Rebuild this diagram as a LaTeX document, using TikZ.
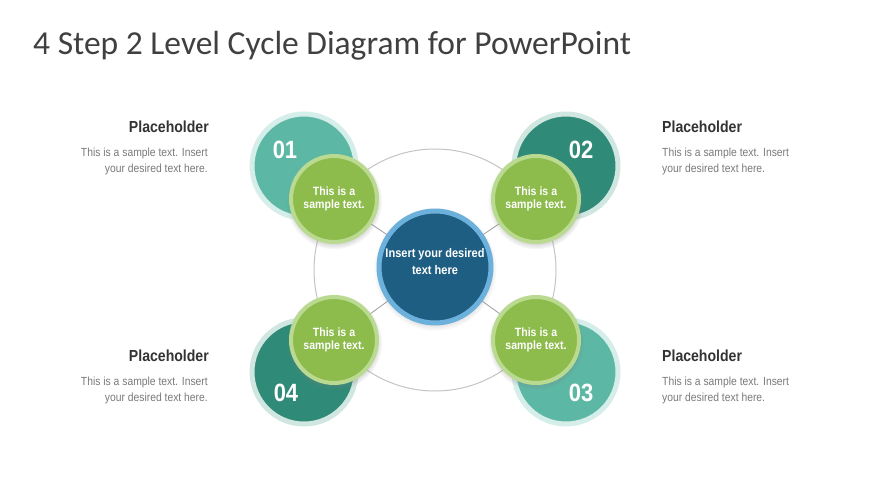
\documentclass[tikz,border=0pt]{standalone}
\usepackage{fontspec}
\setmainfont{Carlito}
\newfontfamily\cond[FakeStretch=0.88]{Liberation Sans}
\usetikzlibrary{shadows}
\definecolor{tealL}{HTML}{5CB8A5}
\definecolor{tealD}{HTML}{2F8A77}
\definecolor{haloL}{HTML}{D6EEEA}
\definecolor{haloD}{HTML}{D0E6E1}
\definecolor{grn}{HTML}{8DBB4C}
\definecolor{grnring}{HTML}{BADA92}
\definecolor{cblue}{HTML}{1F5E83}
\definecolor{cring}{HTML}{6CB0DC}
\definecolor{ringgray}{HTML}{C4C4C4}
\definecolor{titlegray}{HTML}{404040}
\definecolor{headgray}{HTML}{333333}
\definecolor{bodygray}{HTML}{7A7A7A}
\tikzset{
  bigL/.style={circle, fill=tealL, draw=haloL, line width=5pt, minimum size=104pt, inner sep=0pt},
  bigD/.style={circle, fill=tealD, draw=haloD, line width=5pt, minimum size=104pt, inner sep=0pt},
  num/.style={text=white, font=\cond\bfseries\fontsize{25}{25}\selectfont},
  grnbox/.style={circle, fill=grn, draw=grnring, line width=4pt, minimum size=86pt, inner sep=0pt,
     align=center, text=white, font=\cond\bfseries\fontsize{12}{13}\selectfont,
     circular drop shadow={shadow xshift=0pt, shadow yshift=-2pt, shadow scale=1.12, opacity=0.35}},
  cbox/.style={circle, fill=cblue, draw=cring, line width=5pt, minimum size=112pt, inner sep=0pt,
     circular drop shadow={shadow xshift=0pt, shadow yshift=-2pt, shadow scale=1.1, opacity=0.3}},
  ctext/.style={align=center, text=white, inner sep=0pt, font=\cond\bfseries\fontsize{12.5}{17}\selectfont},
  head/.style={text=headgray, font=\cond\bfseries\fontsize{16}{16}\selectfont, inner sep=0pt},
  body/.style={text=bodygray, font=\cond\fontsize{11.75}{16}\selectfont, inner sep=0pt},
  conn/.style={draw=ringgray!80!black, line width=0.8pt},
}
\begin{document}
\begin{tikzpicture}[x=1pt, y=-1pt]
\useasboundingbox (0,0) rectangle (870,489);
\fill[white] (0,0) rectangle (870,489);
% title
\node[anchor=base west, inner sep=0pt, text=titlegray, font=\fontsize{33.5}{33.5}\selectfont] (title) at (33,55) {4 Step 2 Level Cycle Diagram for PowerPoint};
% ring
\node[circle, draw=ringgray, line width=1pt, minimum size=242pt, inner sep=0pt] (ring) at (435,270) {};
% coordinates
\coordinate (pc) at (435,267);
\coordinate (p1) at (334,199);
\coordinate (p2) at (536,199);
\coordinate (p3) at (536,340);
\coordinate (p4) at (334,340);
% connectors
\draw[conn] (pc) -- (p1);
\draw[conn] (pc) -- (p2);
\draw[conn] (pc) -- (p3);
\draw[conn] (pc) -- (p4);
% big circles
\node[bigL] (b1) at (304,166) {};
\node[bigD] (b2) at (566,166) {};
\node[bigL] (b3) at (566,372) {};
\node[bigD] (b4) at (304,372) {};
\node[num] (n1) at (285,150) {01};
\node[num] (n2) at (581,150) {02};
\node[num] (n3) at (581,393) {03};
\node[num] (n4) at (286,393) {04};
% green circles
\node[grnbox] (g1) at (p1) {This is a\\sample text.};
\node[grnbox] (g2) at (p2) {This is a\\sample text.};
\node[grnbox] (g3) at (p3) {This is a\\sample text.};
\node[grnbox] (g4) at (p4) {This is a\\sample text.};
% center
\node[cbox] (c) at (pc) {};
\node[ctext] (ct) at (435,262) {Insert your desired\\text here};
% texts
\node[head, anchor=base east] (h1) at (209,133) {Placeholder};
\node[body, anchor=base east, align=right] (t1) at (208,173) {This is a sample text. Insert\\your desired text here.};
\node[head, anchor=base west] (h2) at (662,133) {Placeholder};
\node[body, anchor=base west, align=left] (t2) at (662,173) {This is a sample text. Insert\\your desired text here.};
\node[head, anchor=base east] (h4) at (209,361) {Placeholder};
\node[body, anchor=base east, align=right] (t4) at (208,401) {This is a sample text. Insert\\your desired text here.};
\node[head, anchor=base west] (h3) at (662,361) {Placeholder};
\node[body, anchor=base west, align=left] (t3) at (662,401) {This is a sample text. Insert\\your desired text here.};
\end{tikzpicture}
\end{document}
